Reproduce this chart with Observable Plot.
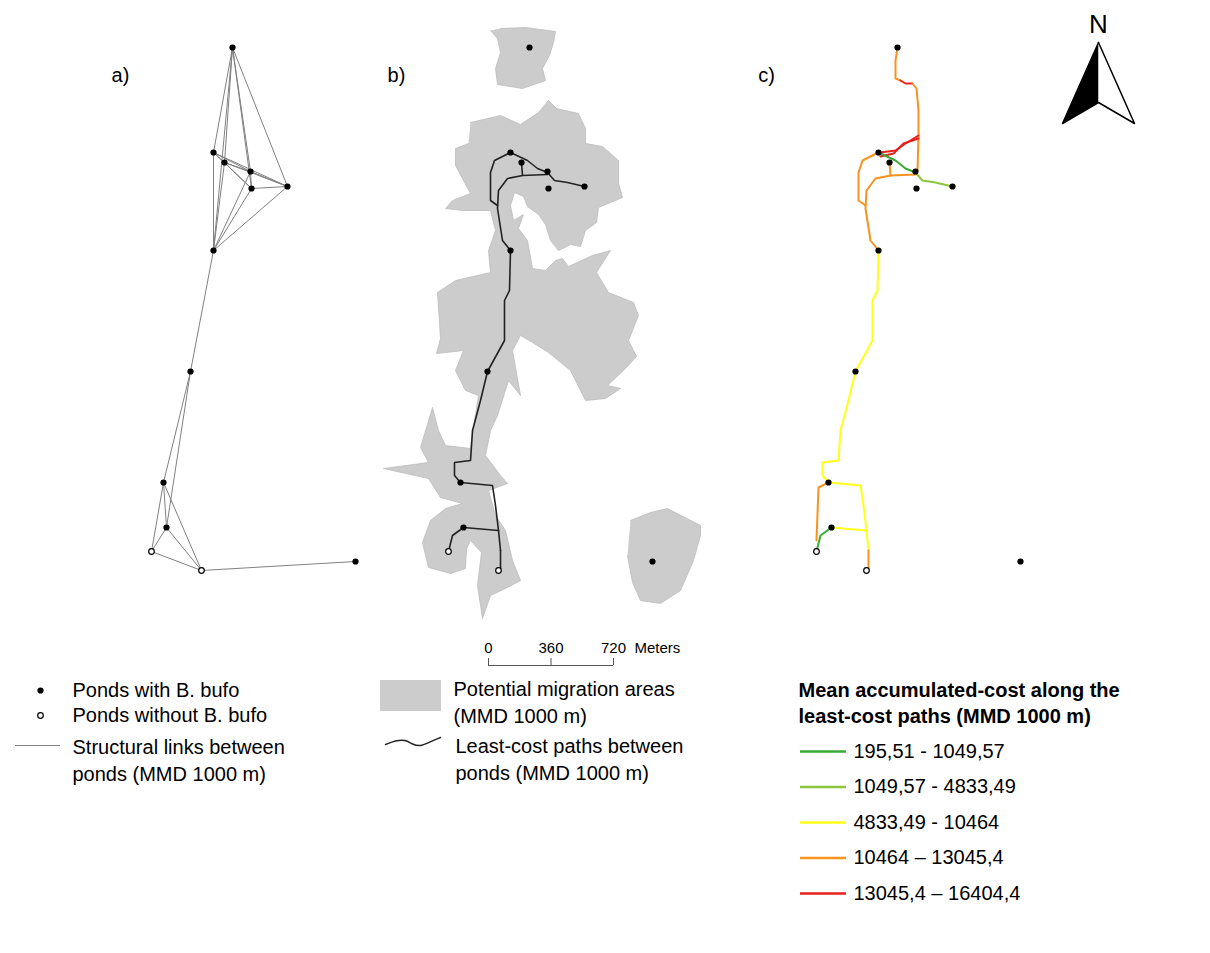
<!DOCTYPE html>
<html>
<head>
<meta charset="utf-8">
<script src="https://cdn.jsdelivr.net/npm/d3@7"></script>
<script src="https://cdn.jsdelivr.net/npm/@observablehq/plot@0.6"></script>
<style>body{margin:0;background:#fff}</style>
</head>
<body>
<div id="chart"></div>
<script>
// ponds, in panel c picture coordinates
const ponds = [
  [897,47,0],[878,152,0],[889,162,0],[915,171,0],[916,188,0],[952,186,0],
  [878,250,0],[855,371,0],[828,482,0],[831,527,0],[816,551,1],[866,570,1],[1020,561,0]
]
const panelShift = {a: -665, b: -368, c: 0}

// structural links (pond index pairs)
const links = [
  [0,1],[0,2],[0,3],[0,4],[0,5],[0,6],
  [1,2],[1,3],[1,4],[1,5],[2,3],[2,4],[2,5],[3,4],[3,5],[4,5],
  [6,1],[6,2],[6,3],[6,4],[6,5],[6,7],
  [7,8],[7,9],[8,9],[8,10],[8,11],[9,10],[9,11],[10,11],[11,12]
]

// least-cost paths, class 1..5 of mean accumulated cost; third field: also shown in panel b
const paths = [
  [4, [[897,47],[895,60],[895,78],[900,80]], 0],
  [5, [[900,80],[905,83],[912,83]], 0],
  [4, [[912,83],[916,88],[918,110],[918,135],[917,170]], 0],
  [5, [[918,135],[905,143],[895,150],[880,152]], 0],
  [5, [[880,156],[893,153],[903,143],[918,138]], 0],
  [1, [[878,152],[895,160],[905,168],[915,172]], 1],
  [2, [[915,172],[922,180],[935,182],[952,186]], 1],
  [4, [[889,162],[890,175],[915,174]], 1],
  [4, [[890,175],[875,178],[866,190],[865,208],[870,240],[878,250]], 1],
  [4, [[878,152],[862,160],[858,172],[858,200],[865,205]], 1],
  [3, [[878,250],[877,290],[872,300],[872,340],[855,371]], 1],
  [3, [[855,371],[848,400],[840,430],[838,460],[822,462],[822,475],[828,482]], 1],
  [3, [[828,482],[860,485],[863,505],[866,530]], 1],
  [4, [[828,482],[818,487],[816,540]], 0],
  [1, [[831,527],[820,535],[816,551]], 1],
  [3, [[831,527],[866,530]], 1],
  [3, [[866,530],[868,550]], 1],
  [4, [[868,550],[868,568]], 1]
]
const classColors = ['#3aaa35','#8cc63f','#ffff1a','#f7931e','#e8201c']
const classLabels = ['195,51 - 1049,57','1049,57 - 4833,49','4833,49 - 10464','10464 – 13045,4','13045,4 – 16404,4']

// potential migration areas (panel b coordinates)
const areas = [
  [[500,28],[525,27],[555,31],[553,42],[549,55],[542,68],[545,80],[522,88],[497,84],[495,68],[500,52],[497,38],[490,30]],
  [[470,122],[500,115],[520,124],[538,112],[548,100],[556,108],[578,113],[585,128],[585,143],[602,146],[618,160],[618,183],[622,197],[610,202],[598,207],[596,222],[585,230],[580,246],[570,244],[558,250],[550,240],[545,224],[538,214],[527,206],[523,196],[514,192],[510,205],[513,220],[523,214],[518,228],[527,240],[532,268],[545,270],[555,260],[562,258],[568,266],[592,255],[610,250],[596,272],[608,292],[633,302],[638,315],[628,340],[636,356],[625,368],[607,385],[620,388],[605,398],[585,400],[570,370],[548,352],[532,342],[520,335],[512,350],[520,395],[508,380],[497,415],[490,430],[485,455],[500,475],[507,483],[488,490],[495,515],[505,530],[512,560],[520,580],[505,588],[490,595],[482,618],[477,585],[481,552],[470,540],[466,548],[465,568],[450,573],[428,567],[422,542],[430,520],[445,508],[462,503],[440,497],[428,478],[383,468],[428,462],[420,447],[432,407],[438,430],[445,445],[470,448],[474,420],[478,395],[465,390],[455,370],[463,350],[436,353],[440,338],[437,292],[455,280],[490,272],[488,250],[495,230],[490,210],[462,210],[445,208],[452,200],[470,193],[455,165],[455,148],[468,143]],
  [[630,520],[650,512],[667,508],[700,525],[700,535],[693,560],[680,590],[660,603],[640,600],[632,582],[627,555]]
]

const scaleTicks = [0,360,720]

// legend rows
const pondLegend = [['Ponds with B. bufo',0],['Ponds without B. bufo',1]]

const pts = []
for (const dx of Object.values(panelShift)) ponds.forEach(([x,y,o]) => pts.push({x: x + dx, y, open: o}))
const linkRows = []
links.forEach(([i,j], k) => {
  linkRows.push({x: ponds[i][0] + panelShift.a, y: ponds[i][1], k})
  linkRows.push({x: ponds[j][0] + panelShift.a, y: ponds[j][1], k})
})
const pathRows = []
paths.forEach(([cls, line, inB], k) => {
  for (const p of ['b','c']) {
    if (p === 'b' && !inB) continue
    line.forEach(([x,y]) => pathRows.push({x: x + panelShift[p], y, k: p + k, p, cls}))
  }
})
const areaRows = areas.flatMap((poly, k) => poly.map(([x,y]) => ({x, y, k})))

const F = 'Liberation Sans, Arial, sans-serif'
const sx = d3.scaleLinear().domain([0,720]).range([488,613])
const squiggle = [[385,744],[395,740],[405,739],[412,744],[420,746],[428,742],[440,737]]

const chart = Plot.plot({
  width: 1210, height: 953, margin: 0,
  x: {domain: [0,1210], range: [0,1210], axis: null},
  y: {domain: [0,953], range: [0,953], axis: null},
  style: {fontFamily: F, background: '#fff'},
  marks: [
    Plot.line(areaRows, {x: 'x', y: 'y', z: 'k', fill: '#cccccc', stroke: '#bdbdbd', strokeWidth: 0.8}),
    Plot.line(linkRows, {x: 'x', y: 'y', z: 'k', stroke: '#808080', strokeWidth: 1}),
    Plot.line(pathRows.filter(d => d.p === 'b'), {x: 'x', y: 'y', z: 'k', stroke: '#222', strokeWidth: 1.6}),
    Plot.line(pathRows.filter(d => d.p === 'c'), {x: 'x', y: 'y', z: 'k', stroke: d => classColors[d.cls-1], strokeWidth: 2}),
    Plot.dot(pts, {x: 'x', y: 'y', r: d => d.open ? 2.6 : 3.2, fill: d => d.open ? '#fff' : '#000', stroke: '#000', strokeWidth: d => d.open ? 1.2 : 0}),
    Plot.text(['a)','b)','c)'], {x: [120,396,766], y: [75,75,75], text: d => d, fontSize: 20}),
    // north arrow
    Plot.text(['N'], {x: [1098], y: [24], text: d => d, fontSize: 26}),
    Plot.line([[1098,42],[1062,123],[1098,102]], {x: d => d[0], y: d => d[1], fill: '#000', stroke: '#000'}),
    Plot.line([[1098,42],[1134,123],[1098,102]], {x: d => d[0], y: d => d[1], fill: '#fff', stroke: '#000', strokeWidth: 1.5}),
    // scale bar
    Plot.ruleY([665], {x1: 488, x2: 613, stroke: '#555'}),
    Plot.ruleX(scaleTicks, {x: d => sx(d), y1: 658, y2: 665, stroke: '#555'}),
    Plot.text(scaleTicks, {x: d => sx(d), y: 648, text: d => String(d), fontSize: 15}),
    Plot.text(['Meters'], {x: [634], y: [648], text: d => d, textAnchor: 'start', fontSize: 15}),
    // legend left
    Plot.dot(pondLegend, {x: 40, y: (d, i) => 690 + i * 25, r: (d) => d[1] ? 2.6 : 3.2, fill: d => d[1] ? '#fff' : '#000', stroke: '#000', strokeWidth: d => d[1] ? 1.2 : 0}),
    Plot.text(pondLegend, {x: 72, y: (d, i) => 690 + i * 25, text: d => d[0], textAnchor: 'start', fontSize: 20}),
    Plot.ruleY([745], {x1: 15, x2: 60, stroke: '#808080'}),
    Plot.text(['Structural links between','ponds (MMD 1000 m)'], {x: 72, y: [747,774], text: d => d, textAnchor: 'start', fontSize: 20}),
    // legend middle
    Plot.rect([0], {x1: 380, x2: 441, y1: 680, y2: 711, fill: '#cccccc'}),
    Plot.text(['Potential migration areas','(MMD 1000 m)'], {x: 453, y: [689,716], text: d => d, textAnchor: 'start', fontSize: 20}),
    Plot.line(squiggle, {x: d => d[0], y: d => d[1], stroke: '#222', curve: 'basis'}),
    Plot.text(['Least-cost paths between','ponds (MMD 1000 m)'], {x: 455, y: [746,773], text: d => d, textAnchor: 'start', fontSize: 20}),
    // legend right
    Plot.text(['Mean accumulated-cost along the','least-cost paths (MMD 1000 m)'], {x: 798, y: [690,716], text: d => d, textAnchor: 'start', fontSize: 20, fontWeight: 'bold'}),
    Plot.ruleY(classLabels, {y: (d, i) => 751 + i * 35.5, x1: 800, x2: 846, stroke: (d, i) => classColors[i], strokeWidth: 2.5}),
    Plot.text(classLabels, {x: 853, y: (d, i) => 751 + i * 35.5, text: d => d, textAnchor: 'start', fontSize: 20})
  ]
})
d3.select('#chart').append(() => chart)
</script>
</body>
</html>
